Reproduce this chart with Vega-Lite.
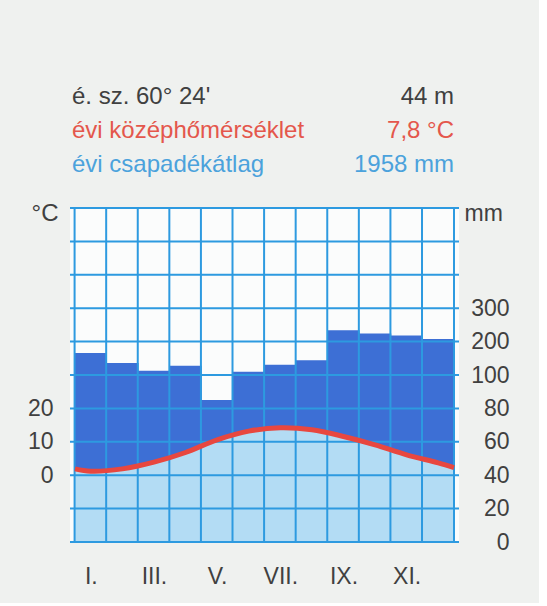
{
  "$schema": "https://vega.github.io/schema/vega-lite/v6.json",
  "autosize": "pad",
  "padding": {"left": 27, "top": 85, "right": 30, "bottom": 15},
  "background": "#eff1ef",
  "bounds": "flush",
  "spacing": 43,
  "config": {"view": {"stroke": null}, "font": "Liberation Sans"},
  "datasets": {
    "header": [
      {"line": 1, "kind": "coord", "label": "é. sz. 60° 24'", "value": "44 m"},
      {"line": 2, "kind": "temp", "label": "évi középhőmérséklet", "value": "7,8 °C"},
      {"line": 3, "kind": "precip", "label": "évi csapadékátlag", "value": "1958 mm"}
    ],
    "climate": [
      {"m": 1, "precip": 166}, {"m": 2, "precip": 136}, {"m": 3, "precip": 113},
      {"m": 4, "precip": 128}, {"m": 5, "precip": 85}, {"m": 6, "precip": 110},
      {"m": 7, "precip": 131}, {"m": 8, "precip": 144}, {"m": 9, "precip": 234},
      {"m": 10, "precip": 224}, {"m": 11, "precip": 218}, {"m": 12, "precip": 208}
    ],
    "temp": [
      {"m": 0.5, "t": 1.9}, {"m": 1, "t": 1.2}, {"m": 2, "t": 1.9}, {"m": 3, "t": 3.9},
      {"m": 4, "t": 6.8}, {"m": 5, "t": 10.6}, {"m": 6, "t": 13.2}, {"m": 7, "t": 14.2},
      {"m": 8, "t": 13.6}, {"m": 9, "t": 11.6}, {"m": 10, "t": 9.1}, {"m": 11, "t": 6.1},
      {"m": 12, "t": 3.7}, {"m": 12.5, "t": 2.3}
    ]
  },
  "vconcat": [
    {
      "width": 384,
      "height": 68,
      "data": {"name": "header"},
      "encoding": {
        "y": {"field": "line", "type": "ordinal", "scale": {"type": "point", "padding": 0}, "axis": null},
        "color": {"field": "kind", "type": "nominal", "scale": {"domain": ["coord", "temp", "precip"], "range": ["#404040", "#e4574c", "#4ba2dc"]}, "legend": null}
      },
      "layer": [
        {
          "mark": {"type": "text", "align": "left", "baseline": "middle", "fontSize": 24, "dx": 2},
          "encoding": {
            "text": {"field": "label"},
            "x": {"datum": 0, "type": "quantitative", "scale": {"domain": [0, 1], "nice": false}, "axis": null}
          }
        },
        {
          "mark": {"type": "text", "align": "right", "baseline": "middle", "fontSize": 24},
          "encoding": {
            "text": {"field": "value"},
            "x": {"datum": 1, "type": "quantitative", "axis": null}
          }
        }
      ]
    },
    {
      "width": 389,
      "height": 334,
      "view": {"fill": "#fbfcfc", "stroke": null},
      "layer": [
        {
          "data": {"name": "climate"},
          "mark": {"type": "bar", "width": 32.4, "color": "#3d6fd5"},
          "encoding": {
            "x": {
              "field": "m", "type": "quantitative",
              "scale": {"domain": [0.5, 12.5], "nice": false, "zero": false},
              "axis": {
                "values": [1, 3, 5, 7, 9, 11],
                "labelExpr": "['I.','II.','III.','IV.','V.','VI.','VII.','VIII.','IX.','X.','XI.','XII.'][datum.value - 1]",
                "grid": false, "ticks": false, "domain": false,
                "labelPadding": 34, "labelBaseline": "middle",
                "labelFontSize": 23, "labelColor": "#404040", "title": null
              }
            },
            "y": {
              "field": "precip", "type": "quantitative",
              "scale": {"domain": [0, 100, 600], "range": [334, 167, 0], "nice": false},
              "axis": {
                "orient": "right",
                "values": [0, 20, 40, 60, 80, 100, 200, 300],
                "grid": false, "ticks": false, "domain": false,
                "labelPadding": 50, "labelAlign": "right", "labelBaseline": "middle",
                "labelFontSize": 23, "labelColor": "#404040",
                "title": "mm", "titleAngle": 0, "titleX": 5, "titleY": 5,
                "titleAlign": "left", "titleBaseline": "middle",
                "titleFontSize": 23, "titleFontWeight": "normal", "titleColor": "#404040"
              }
            }
          }
        },
        {
          "data": {"name": "temp"},
          "mark": {"type": "area", "interpolate": "catmull-rom", "color": "#b3dcf4"},
          "encoding": {
            "x": {"field": "m", "type": "quantitative"},
            "y": {
              "field": "t", "type": "quantitative",
              "scale": {"domain": [-20, 80], "nice": false, "zero": false},
              "axis": {
                "orient": "left",
                "values": [0, 10, 20],
                "grid": false, "ticks": false, "domain": false,
                "labelPadding": 17, "labelFontSize": 23, "labelColor": "#404040",
                "title": "°C", "titleAngle": 0, "titleX": -12, "titleY": 5,
                "titleAlign": "right", "titleBaseline": "middle",
                "titleFontSize": 24, "titleFontWeight": "normal", "titleColor": "#404040"
              }
            },
            "y2": {"datum": -20}
          }
        },
        {
          "data": {"values": [{}]},
          "layer": [
            {
              "data": {"name": "climate"},
              "mark": {"type": "rule", "color": "#2d9ae0", "strokeWidth": 2, "xOffset": -16.2},
              "encoding": {"x": {"field": "m", "type": "quantitative"}}
            },
            {"mark": {"type": "rule", "color": "#2d9ae0", "strokeWidth": 2}, "encoding": {"x": {"datum": 12.5, "type": "quantitative"}}},
            {"mark": {"type": "rule", "color": "#2d9ae0", "strokeWidth": 2}, "encoding": {"y": {"datum": 0, "type": "quantitative", "scale": {"domain": [0, 100, 600], "range": [334, 167, 0], "nice": false}, "axis": null}}},
            {"mark": {"type": "rule", "color": "#2d9ae0", "strokeWidth": 2}, "encoding": {"y": {"datum": 20, "type": "quantitative", "axis": null}}},
            {"mark": {"type": "rule", "color": "#2d9ae0", "strokeWidth": 2}, "encoding": {"y": {"datum": 40, "type": "quantitative", "axis": null}}},
            {"mark": {"type": "rule", "color": "#2d9ae0", "strokeWidth": 2}, "encoding": {"y": {"datum": 60, "type": "quantitative", "axis": null}}},
            {"mark": {"type": "rule", "color": "#2d9ae0", "strokeWidth": 2}, "encoding": {"y": {"datum": 80, "type": "quantitative", "axis": null}}},
            {"mark": {"type": "rule", "color": "#2d9ae0", "strokeWidth": 2}, "encoding": {"y": {"datum": 100, "type": "quantitative", "axis": null}}},
            {"mark": {"type": "rule", "color": "#2d9ae0", "strokeWidth": 2}, "encoding": {"y": {"datum": 200, "type": "quantitative", "axis": null}}},
            {"mark": {"type": "rule", "color": "#2d9ae0", "strokeWidth": 2}, "encoding": {"y": {"datum": 300, "type": "quantitative", "axis": null}}},
            {"mark": {"type": "rule", "color": "#2d9ae0", "strokeWidth": 2}, "encoding": {"y": {"datum": 400, "type": "quantitative", "axis": null}}},
            {"mark": {"type": "rule", "color": "#2d9ae0", "strokeWidth": 2}, "encoding": {"y": {"datum": 500, "type": "quantitative", "axis": null}}},
            {"mark": {"type": "rule", "color": "#2d9ae0", "strokeWidth": 2}, "encoding": {"y": {"datum": 600, "type": "quantitative", "axis": null}}}
          ]
        },
        {
          "data": {"name": "temp"},
          "mark": {"type": "line", "interpolate": "catmull-rom", "color": "#e8473f", "strokeWidth": 5},
          "encoding": {
            "x": {"field": "m", "type": "quantitative"},
            "y": {"field": "t", "type": "quantitative", "scale": {"domain": [-20, 80], "nice": false, "zero": false}, "axis": null}
          }
        }
      ],
      "resolve": {"scale": {"y": "independent"}}
    }
  ]
}
